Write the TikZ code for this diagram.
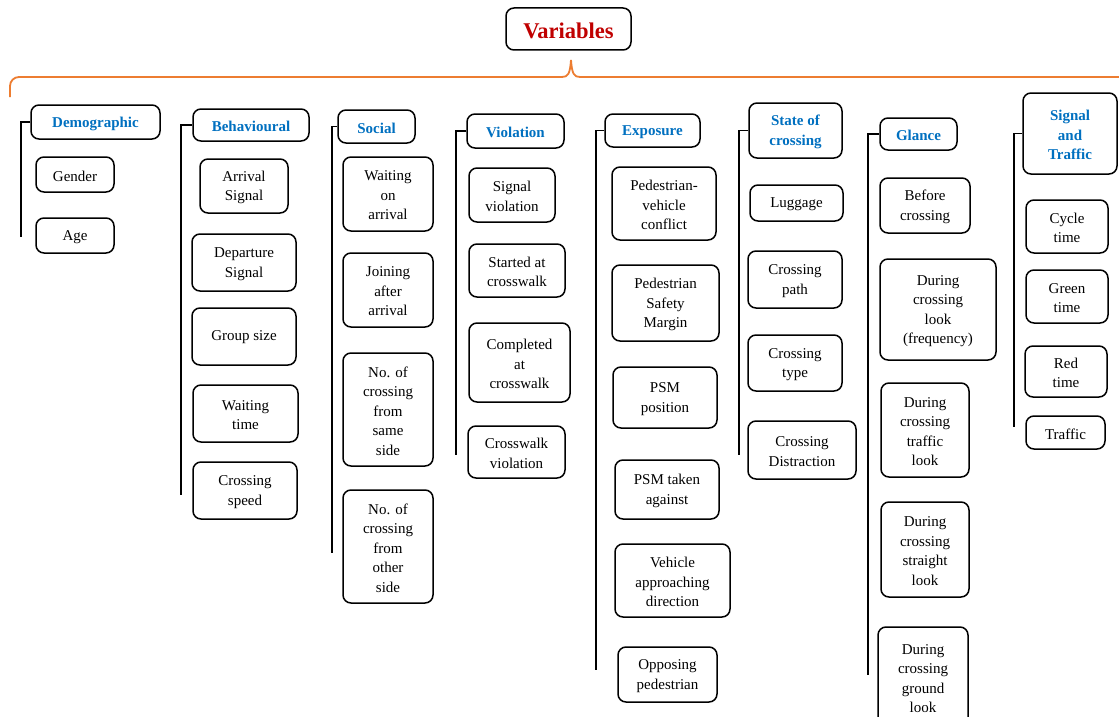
\documentclass[tikz,border=0pt]{standalone}
\usepackage{fontspec}
\setmainfont{Liberation Serif}
\definecolor{brorange}{HTML}{ED7D31}
\definecolor{hdblue}{HTML}{0070C0}
\definecolor{ttlred}{HTML}{C00000}
% box from corner (x1,y1) to (x2,y2): style, x1, y1, x2, y2, name, text
\def\bx#1#2#3#4#5#6#7{%
  \node[#1, minimum width={#4-#2}, minimum height={#5-#3}] (#6) at ({(#2+#4)/2},{(#3+#5)/2}) {};
  \node[#1, draw=none] at ([yshift=-1.5pt]#6.center) {#7};}
\begin{document}
\begin{tikzpicture}[x=1pt,y=-1pt,
  cbox/.style={draw=black, line width=1.5pt, rounded corners=8pt, inner sep=0pt, align=center, font=\fontsize{15}{19.5}\selectfont},
  hbox/.style={cbox, font=\fontsize{15}{19.5}\selectfont\bfseries, text=hdblue},
  tbox/.style={cbox, font=\fontsize{22.5}{27}\selectfont\bfseries, text=ttlred},
  conn/.style={draw=black, line width=1.4pt},
  brace/.style={draw=brorange, line width=1.8pt}]
\clip (0,0) rectangle (1119,717);
\fill[white] (0,0) rectangle (1119,717);

% title and brace
\bx{tbox}{506}{8}{631}{50}{title}{Variables}
\coordinate (bl) at (10,97);
\coordinate (bc) at (10,77);
\coordinate (bm) at (562,77);
\coordinate (bt) at (571,60);
\coordinate (bn) at (580,77);
\coordinate (br) at (1125,77);
\draw[brace, rounded corners=9pt] (bl) -- (bc) -- (bm);
\draw[brace] (bm) .. controls (568,77) and (570,74) .. (bt) .. controls (572,74) and (574,77) .. (bn) -- (br);

% Demographic
\bx{hbox}{31}{105}{160}{139}{demo}{Demographic}
\bx{cbox}{36}{157}{114}{192}{gender}{Gender}
\bx{cbox}{36}{218}{114}{253}{age}{Age}
\coordinate (demoend) at (21,237);
\draw[conn] (demo.west) -| (demoend);

% Behavioural
\bx{hbox}{193}{109}{309}{141}{beh}{Behavioural}
\bx{cbox}{200}{159}{288}{213}{arr}{Arrival\\Signal}
\bx{cbox}{192}{234}{296}{291}{dep}{Departure\\Signal}
\bx{cbox}{192}{308}{296}{365}{grp}{\raisebox{4pt}{Group size}}
\bx{cbox}{193}{385}{298}{442}{wait}{Waiting\\time}
\bx{cbox}{193}{462}{297}{519}{cspd}{Crossing\\speed}
\coordinate (behend) at (181,495);
\draw[conn] (beh.west) -| (behend);

% Social
\bx{hbox}{338}{110}{415}{143}{soc}{Social}
\bx{cbox}{343}{157}{433}{231}{won}{Waiting\\on\\arrival}
\bx{cbox}{343}{253}{433}{327}{join}{Joining\\after\\arrival}
\bx{cbox}{343}{353}{433}{466}{same}{No. of\\crossing\\from\\same\\side}
\bx{cbox}{343}{490}{433}{603}{other}{No. of\\crossing\\from\\other\\side}
\coordinate (socend) at (332,553);
\draw[conn] (soc.west) -| (socend);

% Violation
\bx{hbox}{467}{114}{564}{148}{vio}{Violation}
\bx{cbox}{469}{168}{555}{222}{sigv}{Signal\\violation}
\bx{cbox}{469}{244}{565}{297}{start}{Started at\\crosswalk}
\bx{cbox}{469}{323}{570}{402}{comp}{Completed\\at\\crosswalk}
\bx{cbox}{468}{426}{565}{478}{cwv}{Crosswalk\\violation}
\coordinate (vioend) at (456,455);
\draw[conn] (vio.west) -| (vioend);

% Exposure
\bx{hbox}{605}{114}{700}{147}{expo}{Exposure}
\bx{cbox}{612}{167}{716}{240}{pvc}{Pedestrian-\\vehicle\\conflict}
\bx{cbox}{612}{265}{719}{341}{psm}{Pedestrian\\Safety\\Margin}
\bx{cbox}{613}{367}{717}{428}{psmp}{PSM\\position}
\bx{cbox}{615}{460}{719}{519}{psmt}{PSM taken\\against}
\bx{cbox}{615}{544}{730}{617}{veh}{Vehicle\\approaching\\direction}
\bx{cbox}{618}{647}{717}{702}{opp}{Opposing\\pedestrian}
\coordinate (expend) at (596,670);
\draw[conn] (expo.west) -| (expend);

% State of crossing
\bx{hbox}{749}{103}{842}{158}{state}{State of\\crossing}
\bx{cbox}{750}{185}{843}{221}{lug}{Luggage}
\bx{cbox}{748}{251}{842}{308}{cpath}{Crossing\\path}
\bx{cbox}{748}{335}{842}{391}{ctype}{Crossing\\type}
\bx{cbox}{748}{421}{856}{479}{cdis}{Crossing\\Distraction}
\coordinate (stateend) at (739,455);
\draw[conn] (state.west) -| (stateend);

% Glance
\bx{hbox}{880}{118}{957}{150}{gl}{Glance}
\bx{cbox}{880}{178}{970}{233}{bef}{Before\\crossing}
\bx{cbox}{880}{259}{996}{360}{dfreq}{During\\crossing\\look\\(frequency)}
\bx{cbox}{881}{383}{969}{477}{dtraf}{During\\crossing\\traffic\\look}
\bx{cbox}{881}{502}{969}{597}{dstr}{During\\crossing\\straight\\look}
\bx{cbox}{878}{627}{968}{727}{dgr}{During\\crossing\\ground\\look}
\coordinate (glend) at (868,675);
\draw[conn] (gl.west) -| (glend);

% Signal and Traffic
\bx{hbox}{1023}{93}{1117}{174}{sig}{Signal\\and\\Traffic}
\bx{cbox}{1026}{200}{1108}{253}{cyc}{Cycle\\time}
\bx{cbox}{1026}{270}{1108}{323}{grn}{Green\\time}
\bx{cbox}{1025}{346}{1107}{397}{redt}{Red\\time}
\bx{cbox}{1026}{416}{1105}{449}{trf}{Traffic}
\coordinate (sigend) at (1014,427);
\draw[conn] (sig.west) -| (sigend);
\end{tikzpicture}
\end{document}
